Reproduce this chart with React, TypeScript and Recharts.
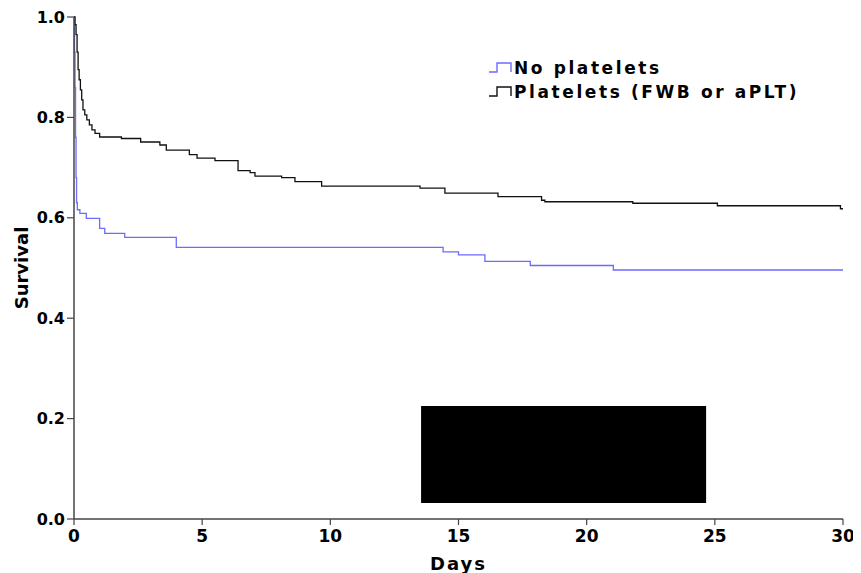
import React from "react";
import { LineChart, Line, XAxis, YAxis, Legend, ReferenceArea, Label } from "recharts";

// Kaplan-Meier steps: survival holds from each day until the next one
const plateletDays = [0, 0.04, 0.08, 0.12, 0.16, 0.2, 0.25, 0.3, 0.35, 0.42, 0.5, 0.6, 0.7, 0.82, 1.0, 1.85, 2.6, 3.35, 3.6, 4.5, 4.8, 5.5, 6.4, 6.87, 7.06, 8.1, 8.62, 9.66, 13.5, 14.47, 16.54, 18.24, 18.37, 21.8, 25.1, 29.9, 30];
const plateletSurv = [1.0, 0.985, 0.965, 0.93, 0.895, 0.875, 0.855, 0.835, 0.815, 0.805, 0.795, 0.785, 0.775, 0.768, 0.761, 0.758, 0.751, 0.745, 0.735, 0.726, 0.719, 0.714, 0.694, 0.69, 0.683, 0.68, 0.672, 0.663, 0.659, 0.649, 0.642, 0.635, 0.632, 0.629, 0.624, 0.618, 0.618];

const noPlateletDays = [0, 0.02, 0.04, 0.06, 0.08, 0.1, 0.13, 0.23, 0.48, 1.0, 1.2, 1.98, 3.99, 14.4, 15.0, 16.03, 17.8, 21.04, 30];
const noPlateletSurv = [1.0, 0.93, 0.86, 0.76, 0.68, 0.63, 0.616, 0.609, 0.599, 0.579, 0.569, 0.561, 0.541, 0.532, 0.526, 0.513, 0.505, 0.496, 0.496];

const xTicks = [0, 5, 10, 15, 20, 25, 30];
const yTicks = [0, 0.2, 0.4, 0.6, 0.8, 1.0];
const seriesNames = ["No platelets", "Platelets (FWB or aPLT)"];
const seriesColors = ["#6b6bff", "#111111"];

// the blacked-out box in the lower right of the plot
const boxDays = [13.54, 24.66];
const boxSurv = [0.032, 0.225];

const toPoints = (days: number[], surv: number[]) => days.map((d, i) => ({ day: d, surv: surv[i] }));

const plateletData = toPoints(plateletDays, plateletSurv);
const noPlateletData = toPoints(noPlateletDays, noPlateletSurv);

const font = "'DejaVu Sans', sans-serif";

const KmLegend = () => (
  <div style={{ fontFamily: font, fontWeight: "bold", fontSize: 17, color: "#000" }}>
    {seriesNames.map((name, i) => (
      <div key={name} style={{ display: "flex", alignItems: "center", height: 23.5, lineHeight: "23.5px", whiteSpace: "nowrap" }}>
        <svg width={26} height={23.5}>
          <path d="M1 15 H9 V6 H23 V15" fill="none" stroke={seriesColors[i]} strokeWidth={1.4} />
        </svg>
        <span style={{ letterSpacing: 2.6 }}>{name}</span>
      </div>
    ))}
  </div>
);

export default function App() {
  const tickStyle = { fill: "#000", fontSize: 16, fontWeight: "bold", fontFamily: font };
  return (
    <div style={{ position: "relative", width: 853, height: 565 }}>
      <LineChart width={853} height={565} margin={{ top: 9, right: 18, bottom: 18, left: 0 }}>
        <XAxis
          type="number"
          dataKey="day"
          domain={[0, 30]}
          ticks={xTicks}
          height={36}
          tickSize={6}
          tickMargin={5}
          axisLine={{ stroke: "#444", strokeWidth: 1.5 }}
          tickLine={{ stroke: "#444", strokeWidth: 1.2 }}
          tick={{ ...tickStyle, fontSize: 17 }}
          allowDuplicatedCategory={false}
        >
          <Label value="Days" position="bottom" offset={2} style={{ fill: "#000", fontSize: 18, fontWeight: "bold", fontFamily: font, letterSpacing: 2 }} />
        </XAxis>
        <YAxis
          type="number"
          domain={[0, 1]}
          ticks={yTicks}
          width={66}
          tickSize={7}
          tickMargin={2}
          tickFormatter={(v: number) => v.toFixed(1)}
          axisLine={{ stroke: "#444", strokeWidth: 1.5 }}
          tickLine={{ stroke: "#444", strokeWidth: 1.2 }}
          tick={tickStyle}
        >
          <Label
            value="Survival"
            angle={-90}
            position="insideLeft"
            offset={14}
            style={{ textAnchor: "middle", fill: "#000", fontSize: 18, fontWeight: "bold", fontFamily: font }}
          />
        </YAxis>
        <ReferenceArea x1={boxDays[0]} x2={boxDays[1]} y1={boxSurv[0]} y2={boxSurv[1]} fill="#000" fillOpacity={1} stroke="none" />
        <Line
          data={noPlateletData}
          dataKey="surv"
          name={seriesNames[0]}
          type="stepAfter"
          stroke={seriesColors[0]}
          strokeWidth={1.3}
          dot={false}
          isAnimationActive={false}
        />
        <Line
          data={plateletData}
          dataKey="surv"
          name={seriesNames[1]}
          type="stepAfter"
          stroke={seriesColors[1]}
          strokeWidth={1.3}
          dot={false}
          isAnimationActive={false}
        />
        <Legend
          layout="vertical"
          align="center"
          verticalAlign="middle"
          content={<KmLegend />}
          wrapperStyle={{ left: 480, top: 49, width: "auto" }}
        />
      </LineChart>
    </div>
  );
}
